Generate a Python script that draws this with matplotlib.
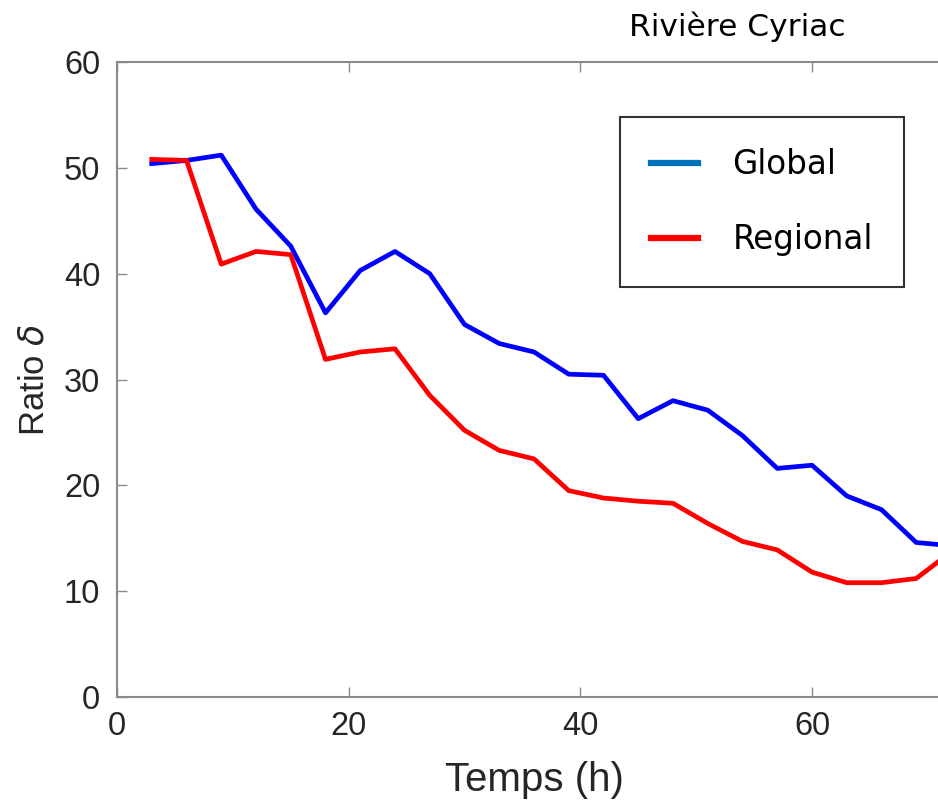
import numpy as np
import matplotlib.pyplot as plt
from matplotlib.lines import Line2D

# Temps (h) and ratio delta for the two models
temps = [3, 6, 9, 12, 15, 18, 21, 24, 27, 30, 33, 36, 39, 42, 45, 48,
         51, 54, 57, 60, 63, 66, 69, 72]
ratio_global = [50.4, 50.7, 51.2, 46.1, 42.6, 36.3, 40.3, 42.1, 40.0, 35.2,
                33.4, 32.6, 30.5, 30.4, 26.3, 28.0, 27.1, 24.7, 21.6, 21.9,
                19.0, 17.7, 14.6, 14.3]
ratio_regional = [50.8, 50.7, 40.9, 42.1, 41.8, 31.9, 32.6, 32.9, 28.5, 25.2,
                  23.3, 22.5, 19.5, 18.8, 18.5, 18.3, 16.4, 14.7, 13.9, 11.8,
                  10.8, 10.8, 11.2, 13.7]
series_names = ['Global', 'Regional']

W, H = 938, 809
fig = plt.figure(figsize=(W / 100, H / 100), dpi=100)
# axes run slightly past the right edge of the picture (cropped like the original)
ax = fig.add_axes([117 / W, (H - 697) / H, (951 - 117) / W, (697 - 62) / H])

ax.plot(temps, ratio_global, color='#0000ff', lw=3.4)
ax.plot(temps, ratio_regional, color='#ff0000', lw=3.4)

ax.set_xlim(0, 72)
ax.set_ylim(0, 60)
ax.set_xticks([0, 20, 40, 60])
ax.set_yticks(np.arange(0, 61, 10))

grey = '#8a8a8a'
for sp in ax.spines.values():
    sp.set_color(grey)
    sp.set_linewidth(1.5)
ax.tick_params(direction='in', length=7, width=1, color=grey,
               top=True, right=True, labelsize=23.5, labelcolor='#262626')
ax.tick_params(axis='x', pad=10)
ax.tick_params(axis='y', pad=12)
for lab in ax.get_xticklabels() + ax.get_yticklabels():
    lab.set_family('Liberation Sans')

ax.set_xlabel('Temps (h)', fontsize=29, color='#262626', family='Liberation Sans', labelpad=14)
ax.set_ylabel(r'Ratio $\delta$', fontsize=25, color='#262626', family='Liberation Sans', labelpad=10)

fig.text(737 / W, 1 - 27 / H, 'Rivière Cyriac', fontsize=22.5, ha='center', va='center',
         family='DejaVu Sans', color='black')

# legend swatch for Global uses a different blue than the line, as in the original
handles = [Line2D([], [], color='#0072bd', lw=4.5),
           Line2D([], [], color='#ff0000', lw=4.5)]
leg = fig.legend(handles, series_names, loc='upper left',
                 bbox_to_anchor=(620 / W, 1 - 117 / H),
                 frameon=True, fancybox=False, edgecolor='black',
                 handlelength=1.45, handletextpad=1.05, labelspacing=1.3,
                 borderpad=0.95, borderaxespad=0,
                 prop={'family': 'DejaVu Sans', 'size': 23.5})
leg.get_frame().set_linewidth(1.5)

fig.savefig('out.png', dpi=100)
